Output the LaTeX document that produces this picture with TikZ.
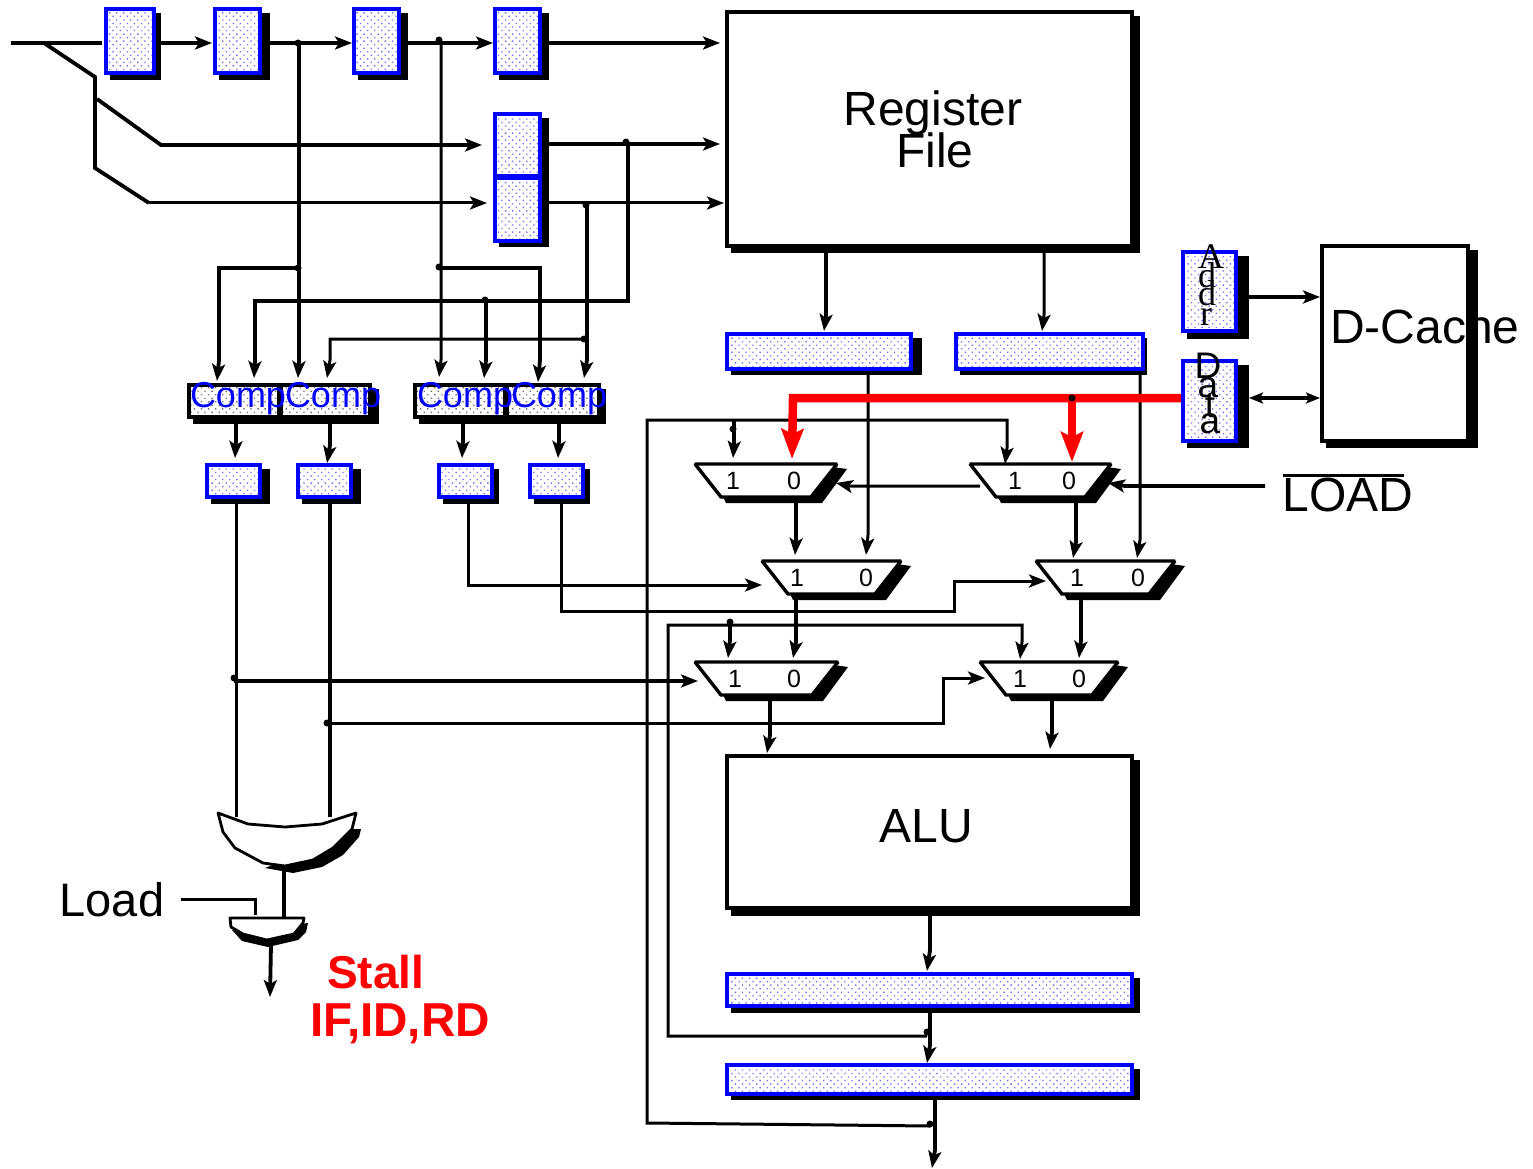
\documentclass[tikz,border=0pt]{standalone}
\usepackage{fontspec}
\setmainfont{Liberation Sans}
\newfontfamily\timesf{Liberation Serif}
\usetikzlibrary{arrows.meta,patterns.meta,calc}
\definecolor{pureblue}{RGB}{0,0,255}
\definecolor{purered}{RGB}{255,0,0}
\newcommand{\fsz}[1]{\fontsize{#1}{#1}\selectfont}
\tikzset{
  x=1pt,y=-1pt,
  wire/.style={line width=3.8pt,draw=black,line join=miter},
  thinwire/.style={line width=3pt,draw=black,line join=miter},
  redwire/.style={line width=8.5pt,draw=purered,line join=miter},
  arr/.style={-{Stealth[length=17pt,width=13pt,inset=4pt]}},
  redarr/.style={-{Stealth[length=30pt,width=22pt,inset=5pt]}},
  dblarr/.style={{Stealth[length=14pt,width=11pt,inset=3pt]}-{Stealth[length=14pt,width=11pt,inset=3pt]}},
  regbox/.style={draw=pureblue,line width=4pt,inner sep=0pt,outer sep=0pt,
    preaction={fill=white},pattern={Dots[distance=5pt,radius=.95pt,angle=45]},pattern color=pureblue!55},
  compbox/.style={draw=black,line width=3.6pt,inner sep=0pt,outer sep=0pt,
    preaction={fill=white},pattern={Dots[distance=5pt,radius=.95pt,angle=45]},pattern color=black!55},
  blockbox/.style={draw=black,line width=4pt,inner sep=0pt,outer sep=0pt,fill=white},
  jdot/.style={circle,fill=black,inner sep=0pt,minimum size=7pt},
  muxshape/.style={draw=black,line width=3.4pt,fill=white,line join=miter,miter limit=2},
  bigtext/.style={inner sep=0pt,outer sep=0pt,anchor=base,font=\fsz{48}},
  comptext/.style={inner sep=0pt,outer sep=0pt,anchor=base west,font=\fsz{36},text=pureblue},
  digit/.style={inner sep=0pt,outer sep=0pt,font=\fsz{25}},
  stalltext/.style={inner sep=0pt,outer sep=0pt,anchor=base west,font=\fsz{46}\bfseries,text=purered},
  addrtext/.style={inner sep=0pt,outer sep=0pt,anchor=base,font=\timesf\fsz{36}},
  datatext/.style={inner sep=0pt,outer sep=0pt,anchor=base,font=\fsz{37}},
}
% \Bx{style}{name}{x1}{y1}{x2}{y2}{shadow right}{shadow bottom}
\newcommand{\Bx}[8]{%
  \fill[black] ({#3+6},{#4+6}) rectangle (#7,#8);
  \pgfmathsetmacro{\bxw}{#5-#3-4}\pgfmathsetmacro{\bxh}{#6-#4-4}%
  \node[#1,minimum width=\bxw pt,minimum height=\bxh pt] (#2) at ({(#3+#5)/2},{(#4+#6)/2}) {};
}
% \Mux{name}{xl}{xr}{ytop}{x of 1}{x of 0}
\newcommand{\Mux}[6]{%
  \fill[black] ({#2+30},{#4+33}) -- ({#2+33},{#4+39}) -- ({#3-17},{#4+39}) -- ({#3+8},{#4+5}) -- ({#3-6},{#4+3}) -- cycle;
  \draw[muxshape] ({#2+2},#4) -- ({#3-2},#4) -- ({#3-28},{#4+33}) -- ({#2+28},{#4+33}) -- cycle;
  \node[digit] (#1one) at (#5,{#4+17}) {1};
  \node[digit] (#1zero) at (#6,{#4+17}) {0};
}
\begin{document}
\begin{tikzpicture}
\useasboundingbox (0,0) rectangle (1533,1169);
% ---- named positions of the free ends of connectors
\coordinate (in) at (11,43);
\coordinate (split) at (44,43);
\coordinate (inend) at (102,43);
\coordinate (bus) at (97,99);
\coordinate (tR2) at (212,43);
\coordinate (tR3) at (352,43);
\coordinate (tR4) at (493,43);
\coordinate (tRF1) at (720,43);
\coordinate (tRF2) at (720,144);
\coordinate (tRF3) at (724,203);
\coordinate (tSa) at (482,145);
\coordinate (tSb) at (487,203);
\coordinate (tC1a) at (217,381);
\coordinate (tC1b) at (254,378);
\coordinate (tC1c) at (298,378);
\coordinate (tC1d) at (327,378);
\coordinate (tC2a) at (439,377);
\coordinate (tC2b) at (484,378);
\coordinate (tC2c) at (538,382);
\coordinate (tC2d) at (584,378);
\coordinate (tS1) at (235,458);
\coordinate (tS2) at (327,463);
\coordinate (tS3) at (462,458);
\coordinate (tS4) at (558,458);
\coordinate (tL1) at (824,331);
\coordinate (tL2) at (1042,331);
\coordinate (tM1a) at (733,458);
\coordinate (tM1b) at (792,459);
\coordinate (tM2a) at (1005,464);
\coordinate (tM2b) at (1072,462);
\coordinate (tM1s) at (836,483);
\coordinate (tM2s) at (1108,483);
\coordinate (sM2s) at (1265,486);
\coordinate (tM3a) at (795,555);
\coordinate (tM3b) at (866,555);
\coordinate (tM3s) at (762,585);
\coordinate (tM4a) at (1073,558);
\coordinate (tM4b) at (1137,558);
\coordinate (tM4s) at (1046,581);
\coordinate (tM5a) at (728,658);
\coordinate (tM5b) at (793,658);
\coordinate (tM5s) at (698,681);
\coordinate (tM6a) at (1020,659);
\coordinate (tM6b) at (1079,658);
\coordinate (tM6s) at (985,678);
\coordinate (tA1) at (767,753);
\coordinate (tA2) at (1050,749);
\coordinate (tE) at (927,971);
\coordinate (tF) at (927,1063);
\coordinate (tOut) at (932,1168);
\coordinate (fb1) at (930,1126);
\coordinate (fb2) at (927,1036);
\coordinate (orA) at (236,817);
\coordinate (orB) at (330,817);
\coordinate (orOut) at (284,866);
\coordinate (andTop) at (284,918);
\coordinate (andLoad) at (255,915);
\coordinate (loadStart) at (181,899);
\coordinate (andOut) at (271,945);
\coordinate (tStall) at (270,997);
% ---- wires (behind the boxes)
\draw[wire] (in) -- (inend);
\draw[wire] (split) -- (95,77) -- (95,168) -- (149,203);
\draw[thinwire,arr] (149,203) -- (tSb);
\draw[wire,arr] (bus) -- (161,145) -- (tSa);
\draw[wire,arr] (161,43) -- (tR2);
\draw[wire,arr] (265,43) -- (tR3);
\draw[wire,arr] (405,43) -- (tR4);
\draw[wire,arr] (545,43) -- (tRF1);
\draw[wire,arr] (545,144) -- (tRF2);
\draw[thinwire,arr] (545,203) -- (tRF3);
\draw[wire,arr] (299,43) -- (299,360) -- (tC1c);
\draw[wire,arr] (299,268) -- (219,268) -- (219,360) -- (tC1a);
\draw[wire,arr] (628,144) -- (628,301) -- (255,301) -- (255,360) -- (tC1b);
\draw[wire,arr] (486,301) -- (486,360) -- (tC2b);
\draw[wire,arr] (587,203) -- (587,360) -- (tC2d);
\draw[thinwire,arr] (587,339) -- (330,339) -- (330,360) -- (tC1d);
\draw[thinwire,arr] (441,43) -- (441,360) -- (tC2a);
\draw[wire,arr] (441,268) -- (540,268) -- (540,360) -- (tC2c);
\draw[wire,arr] (236,420) -- (236,440) -- (tS1);
\draw[wire,arr] (330,420) -- (330,445) -- (tS2);
\draw[wire,arr] (463,420) -- (463,440) -- (tS3);
\draw[wire,arr] (559,420) -- (559,440) -- (tS4);
\draw[thinwire] (236,500) -- (orA);
\draw[wire] (330,500) -- (orB);
\draw[thinwire,arr] (468,500) -- (468,585) -- (tM3s);
\draw[thinwire,arr] (561,500) -- (561,611) -- (954,611) -- (954,581) -- (tM4s);
\draw[wire,arr] (234,681) -- (tM5s);
\draw[thinwire,arr] (327,723) -- (943,723) -- (943,678) -- (tM6s);
\draw[wire,arr] (826,250) -- (826,315) -- (tL1);
\draw[thinwire,arr] (1044,250) -- (1044,315) -- (tL2);
\draw[thinwire,arr] (868,372) -- (868,535) -- (tM3b);
\draw[thinwire,arr] (1140,372) -- (1140,540) -- (tM4b);
\draw[thinwire,arr] (fb1) -- (647,1123) -- (647,420) -- (1007,420) -- (1007,448) -- (tM2a);
\draw[wire,arr] (734,420) -- (734,445) -- (tM1a);
\draw[thinwire,arr] (fb2) -- (668,1036) -- (668,625) -- (1022,625) -- (1022,642) -- (tM6a);
\draw[wire,arr] (730,622) -- (730,640) -- (tM5a);
\draw[thinwire,arr] (980,486) -- (850,486) -- (tM1s);
\draw[wire,arr] (sM2s) -- (1125,486) -- (tM2s);
\draw[wire,arr] (796,500) -- (796,540) -- (tM3a);
\draw[wire,arr] (1076,500) -- (1076,542) -- (tM4a);
\draw[wire,arr] (796,598) -- (796,642) -- (tM5b);
\draw[wire,arr] (1081,598) -- (1081,640) -- (tM6b);
\draw[wire,arr] (770,697) -- (770,735) -- (tA1);
\draw[wire,arr] (1052,697) -- (1052,732) -- (tA2);
\draw[wire,arr] (930,912) -- (930,950) -- (tE);
\draw[wire,arr] (930,1010) -- (930,1045) -- (tF);
\draw[wire,arr] (935,1098) -- (935,1150) -- (tOut);
\draw[wire,arr] (1245,297) -- (1320,297);
\draw[wire,dblarr] (1249,398) -- (1320,398);
\draw[thinwire] (loadStart) -- (255,899) -- (andLoad);
\draw[wire] (orOut) -- (andTop);
\draw[wire,arr] (andOut) -- (tStall);
% ---- forwarding from the D-Cache data register (red)
\draw[redwire,redarr] (1182,398) -- (793,398) -- (tM1b);
\draw[redwire,redarr] (1072,398) -- (tM2b);
% ---- registers
\Bx{regbox}{R1}{104}{7}{156}{75}{161}{80}
\Bx{regbox}{R2}{213}{7}{262}{75}{270}{80}
\Bx{regbox}{R3}{352}{7}{401}{75}{408}{80}
\Bx{regbox}{R4}{493}{7}{542}{75}{549}{80}
\Bx{regbox}{S1}{493}{112}{542}{178}{549}{246}
\Bx{regbox}{S2}{493}{176}{542}{243}{549}{247}
\Bx{blockbox}{RF}{725}{10}{1134}{248}{1140}{253}
\Bx{regbox}{L1}{725}{332}{913}{371}{922}{375}
\Bx{regbox}{L2}{954}{332}{1145}{371}{1147}{375}
\Bx{regbox}{AD}{1181}{250}{1238}{333}{1249}{339}
\Bx{regbox}{DT}{1181}{359}{1238}{443}{1249}{448}
\Bx{blockbox}{DC}{1320}{244}{1470}{443}{1478}{448}
\Bx{compbox}{C1}{187}{383}{281}{419}{379}{424}
\Bx{compbox}{C2}{279}{383}{372}{419}{379}{424}
\Bx{compbox}{C3}{413}{383}{507}{419}{606}{424}
\Bx{compbox}{C4}{505}{383}{601}{419}{606}{424}
\Bx{regbox}{Q1}{205}{463}{262}{499}{270}{504}
\Bx{regbox}{Q2}{296}{463}{353}{499}{361}{504}
\Bx{regbox}{Q3}{437}{463}{494}{499}{499}{504}
\Bx{regbox}{Q4}{528}{463}{585}{499}{590}{504}
\Bx{blockbox}{ALU}{725}{754}{1134}{910}{1140}{916}
\Bx{regbox}{EX}{725}{972}{1134}{1008}{1140}{1013}
\Bx{regbox}{WB}{725}{1063}{1134}{1096}{1140}{1100}
% ---- junction dots
\node[jdot] (j1) at (298,43) {};
\node[jdot] (j2) at (439,40) {};
\node[jdot] (j3) at (626,142) {};
\node[jdot] (j4) at (586,205) {};
\node[jdot] (j5) at (298,268) {};
\node[jdot] (j6) at (439,267) {};
\node[jdot] (j7) at (485,300) {};
\node[jdot] (j8) at (584,339) {};
\node[jdot] (j9) at (733,429) {};
\node[jdot] (j10) at (1072,398) {};
\node[jdot] (j11) at (730,622) {};
\node[jdot] (j12) at (234,678) {};
\node[jdot] (j13) at (327,723) {};
\node[jdot] (j14) at (927,1032) {};
\node[jdot] (j15) at (930,1124) {};
% ---- multiplexers
\Mux{MA}{693}{839}{464}{733}{794}
\Mux{MB}{968}{1113}{464}{1015}{1069}
\Mux{MC}{760}{903}{561}{797}{866}
\Mux{MD}{1034}{1177}{561}{1077}{1138}
\Mux{ME}{693}{840}{662}{735}{794}
\Mux{MF}{978}{1120}{662}{1020}{1079}
% ---- OR gate
\fill[black] (350,829) -- (361,829) -- (359,837) -- (343,855) -- (322,867) -- (293,873) -- (265,868) -- (285,860) -- (330,840) -- cycle;
\draw[line width=2.8pt,fill=white,line join=round] (218,813) -- (248,824) -- (285,827) -- (322,824) -- (356,813) -- (352,829) -- (333,848) -- (313,860) -- (285,866) -- (263,863) -- (235,848) -- (223,832) -- cycle;
% ---- AND gate
\fill[black] (232,930) -- (242,941) -- (268,947) -- (298,940) -- (306,932) -- (308,923) -- (295,925) -- (268,935) -- cycle;
\draw[line width=2.8pt,fill=white,line join=round] (230,918) -- (304,918) -- (303,923) -- (294,934) -- (267,940) -- (243,934) -- (231,927) -- cycle;
% ---- texts
\node[bigtext] (tReg) at (933,126) {Register};
\node[bigtext] (tFile) at (935,168) {File};
\node[bigtext] (tDC) at (1425,343) {D-Cache};
\node[bigtext] (tALU) at (926,842) {ALU};
\node[bigtext] (tLOAD) at (1348,511) {LOAD};
\draw[thinwire] (tLOAD.north west |- 0,475) -- (1404,475);
\node[bigtext,font=\fsz{47}] (tLoad) at (112,916) {Load};
\node[comptext] (cA) at (190,407) {Comp};
\node[comptext] (cB) at (285,407) {Comp};
\node[comptext] (cC) at (417,407) {Comp};
\node[comptext] (cD) at (511,407) {Comp};
\node[stalltext] (tSt) at (327,988) {Stall};
\node[stalltext,font=\fsz{47.6}\bfseries] (tIF) at (310,1036) {IF,ID,RD};
\node[addrtext] (a1) at (1211,268) {A};
\node[addrtext] (a2) at (1207,287) {d};
\node[addrtext] (a3) at (1207,305) {d};
\node[addrtext] (a4) at (1206,325) {r};
\node[datatext] (d1) at (1208,378) {D};
\node[datatext] (d2) at (1208,397) {a};
\node[datatext] (d3) at (1210,417) {t};
\node[datatext] (d4) at (1210,433) {a};
\end{tikzpicture}
\end{document}
